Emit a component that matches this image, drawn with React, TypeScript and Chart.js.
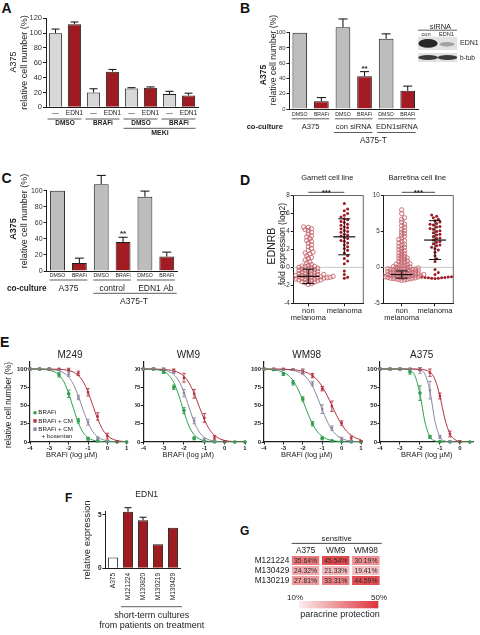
import React, { useEffect, useRef } from 'react';
import { Chart, registerables } from 'chart.js';

Chart.register(...registerables);

const FONT = '"Liberation Sans", Arial, Helvetica, sans-serif';
Chart.defaults.font.family = FONT;
Chart.defaults.color = '#222';

/* ===================== DATA ===================== */
// Panel A
const A_LABELS = ['—', 'EDN1', '—', 'EDN1', '—', 'EDN1', '—', 'EDN1'];
const A_VALUES = [100, 112, 20, 48, 25.5, 26.5, 18, 16];
const A_ERRORS = [5.5, 3, 5, 3, 1, 1, 3.5, 3];
const A_TREATMENTS = ['DMSO', 'BRAFi', 'DMSO', 'BRAFi'];
const A_BACKGROUND = 'MEKi';

// Panel B
const B_LABELS = ['DMSO', 'BRAFi', 'DMSO', 'BRAFi', 'DMSO', 'BRAFi'];
const B_VALUES = [100, 10, 107, 43, 92, 24];
const B_ERRORS = [0, 5, 11, 6, 6.5, 6];
const B_SIGNIF = ['', '', '', '**', '', ''];
const B_COCULTURE = ['A375', 'con siRNA', 'EDN1siRNA'];
const B_BLOT_LANES = ['con', 'EDN1'];
const B_BLOT_ROWS = ['EDN1', 'b-tub'];

// Panel C
const C_LABELS = ['DMSO', 'BRAFi', 'DMSO', 'BRAFi', 'DMSO', 'BRAFi'];
const C_VALUES = [100, 10, 108, 36, 92.5, 18];
const C_ERRORS = [0, 6, 11, 6, 7, 5.5];
const C_SIGNIF = ['', '', '', '**', '', ''];
const C_COCULTURE = ['A375', 'control', 'EDN1 Ab'];

// Panel D
const D_CATEGORIES: (string | string[])[] = [['non', 'melanoma'], 'melanoma'];
const D_GARNETT_NON = [4.5, 4.45, 4.3, 4.2, 4.1, 3.9, 3.7, 3.5, 3.4, 3.2, 3.0, 2.9, 2.7, 2.5, 2.3, 2.1, 1.9, 1.7, 1.6, 1.5, 1.3, 1.1, 1.0, 0.8, 0.6, 0.5, 0.3, 0.2, 0.15, 0.1, 0.05, 0.0, -0.05, -0.1, -0.15,
  -0.2, -0.25, -0.3, -0.35, -0.4, -0.45, -0.5, -0.55, -0.6, -0.65, -0.7, -0.75, -0.8, -0.8, -0.85, -0.9, -0.9, -0.95, -1.0, -1.0, -1.0, -1.05, -1.05, -1.1, -1.1, -1.1, -1.15, -1.15, -1.2, -1.2, -1.2, -1.25, -1.3, -1.3, -1.35, -1.4, -1.4, -1.45, -1.5, -1.55, -1.6, -1.65, -1.7, -1.8, -1.9];
const D_GARNETT_MEL = [7.1, 6.5, 6.3, 6.0, 5.8, 5.6, 5.4, 5.3, 5.1, 5.0, 4.8, 4.7, 4.5, 4.4, 4.3, 4.1, 4.0, 3.9, 3.7, 3.6, 3.5, 3.3, 3.2, 3.0, 2.9, 2.7, 2.5, 2.3, 2.1, 1.9, 1.6, 1.3, 1.0, 0.7, 0.4, -0.4, -0.8, -1.1, -1.2];
const D_GARNETT_MEAN = [-1.0, 3.4];
const D_GARNETT_SD = [0.8, 2.0];
const D_BARRETINA_NON = [8.0, 7.5, 6.9, 6.7, 6.3, 6.0, 5.8, 5.6, 5.3, 5.1, 4.9, 4.7, 4.5, 4.3, 4.1, 3.9, 3.7, 3.6, 3.4, 3.2, 3.1, 2.9, 2.8, 2.6, 2.5, 2.3, 2.2, 2.0, 1.9, 1.8, 1.6, 1.5, 1.4, 1.3, 1.2, 1.1, 1.0, 0.9, 0.8, 0.7, 0.6, 0.5, 0.45, 0.4, 0.3, 0.25, 0.2, 0.1, 0.05, 0.0,
  -0.05, -0.1, -0.1, -0.15, -0.2, -0.2, -0.25, -0.3, -0.3, -0.35, -0.4, -0.4, -0.45, -0.5, -0.5, -0.55, -0.6, -0.6, -0.65, -0.7, -0.7, -0.75, -0.8, -0.8, -0.85, -0.9, -0.9, -0.95, -1.0, -1.0, -1.0, -1.05, -1.1, -1.1, -1.1, -1.15, -1.2, -1.2, -1.2, -1.25, -1.3, -1.3, -1.3, -1.35, -1.4, -1.4, -1.45, -1.5, -1.5, -1.55, -1.6, -1.6, -1.65, -1.7, -1.75, -1.8];
const D_BARRETINA_MEL = [7.3, 7.1, 6.9, 6.7, 6.5, 6.3, 6.1, 6.0, 5.9, 5.7, 5.6, 5.4, 5.3, 5.1, 5.0, 4.8, 4.6, 4.5, 4.3, 4.1, 4.0, 3.8, 3.6, 3.5, 3.3, 3.1, 3.0, 2.8, 2.6, 2.4, 2.1, 1.6, 1.2, 0.8, -0.3, -0.7, -1.0, -1.3, -1.35, -1.4, -1.4, -1.45, -1.5, -1.5, -1.55, -1.45, -1.35];
const D_BARRETINA_MEAN = [-1.0, 3.8];
const D_BARRETINA_SD = [0.5, 2.7];
const D_TITLES = ['Garnett cell line', 'Barretina cell line'];
const D_SIGNIF = '***';

// Panel E
const E_SERIES = ['BRAFi', 'BRAFi + CM', 'BRAFi + CM', '+ bosentan'];
const E_CELL_LINES = ['M249', 'WM9', 'WM98', 'A375'];
const E_DOSES = [-4, -3.5, -3, -2.5, -2, -1.5, -1, -0.5, 0, 0.5, 1];
const E_DOSES_A375 = [-4, -3.5, -3, -2.5, -2, -1.5, -1, -0.5, 0, 0.5];
const E_FIT_DOSES = [-4, -3.75, -3.5, -3.25, -3, -2.75, -2.5, -2.25, -2, -1.75, -1.5, -1.25, -1, -0.75, -0.5, -0.25, 0, 0.25, 0.5, 0.75, 1];

const M249_BRAFI = [100, 100, 100, 92, 66, 29, 4.5, 1.5, 0.5, 0, 0];
const M249_BRAFI_ERR = [1, 1, 1, 3, 5, 3, 2, 1, 0, 0, 0];
const M249_CM = [100, 100, 100, 100, 99, 94, 68, 35, 8, 1, 0];
const M249_CM_ERR = [1, 1, 1, 1, 2, 3, 5, 5, 4, 1, 0];
const M249_BOS = [100, 100, 100, 99, 93, 61, 27, 5, 1, 0, 0];
const M249_BOS_ERR = [1, 1, 1, 1, 3, 3, 4, 2, 1, 0, 0];
const M249_BRAFI_FIT = [100, 99.9, 99.7, 99.3, 98.4, 96.4, 91.8, 82.6, 66.6, 45.7, 26.2, 13.0, 5.9, 2.6, 1.1, 0.5, 0.2, 0.1, 0, 0, 0];
const M249_CM_FIT = [100, 100, 100, 99.9, 99.9, 99.8, 99.6, 99.1, 98.0, 95.7, 91.1, 82.6, 68.5, 50, 31.5, 17.4, 8.9, 4.3, 2.0, 0.9, 0.4];
const M249_BOS_FIT = [100, 100, 99.9, 99.7, 99.4, 98.8, 97.4, 94.6, 88.9, 78.7, 62.9, 43.8, 26.4, 14.1, 7.0, 3.4, 1.6, 0.7, 0.3, 0.15, 0.1];

const WM9_BRAFI = [100, 100, 96, 75, 43, 5, 1, 0, 0, 0, 0];
const WM9_BRAFI_ERR = [1, 1, 2, 3, 4, 2, 1, 0, 0, 0, 0];
const WM9_CM = [100, 100, 100, 98, 88, 66, 33, 6, 1, 0, 0];
const WM9_CM_ERR = [1, 1, 1, 2, 6, 6, 6, 3, 1, 0, 0];
const WM9_BOS = [100, 100, 100, 96, 67, 29, 3, 1, 0, 0, 0];
const WM9_BOS_ERR = [1, 1, 1, 2, 5, 4, 2, 1, 0, 0, 0];
const WM9_BRAFI_FIT = [99.9, 99.8, 99.4, 98.6, 96.5, 91.6, 81.4, 63.5, 40.9, 21.6, 9.9, 4.2, 1.7, 0.7, 0.3, 0.1, 0, 0, 0, 0, 0];
const WM9_CM_FIT = [100, 100, 99.9, 99.7, 99.4, 98.8, 97.5, 94.9, 89.9, 80.8, 66.6, 48.5, 30.8, 17.4, 9.1, 4.5, 2.2, 1.0, 0.5, 0.2, 0.1];
const WM9_BOS_FIT = [100, 99.9, 99.7, 99.4, 98.5, 96.6, 92.3, 83.5, 68.1, 47.4, 27.5, 13.8, 6.3, 2.8, 1.2, 0.5, 0.2, 0.1, 0, 0, 0];

const WM98_BRAFI = [100, 99, 93, 81, 59, 25, 5, 1.5, 0.5, 0, 0];
const WM98_BRAFI_ERR = [1, 1, 2, 3, 3, 3, 2, 1, 0, 0, 0];
const WM98_CM = [100, 100, 100, 99, 97, 91, 73, 49, 26, 5, 1];
const WM98_CM_ERR = [1, 1, 1, 1, 3, 3, 3, 7, 3, 3, 1];
const WM98_BOS = [100, 100, 99, 99, 96, 80, 45, 19, 4.5, 1, 0];
const WM98_BOS_ERR = [1, 1, 1, 1, 3, 3, 6, 3, 2, 1, 0];
const WM98_BRAFI_FIT = [99.7, 99.4, 98.8, 97.7, 95.4, 91.3, 84.0, 72.5, 56.9, 39.8, 24.9, 14.2, 7.7, 4.0, 2.0, 1.0, 0.5, 0.3, 0.1, 0.1, 0];
const WM98_CM_FIT = [100, 99.9, 99.9, 99.8, 99.7, 99.4, 99.0, 98.3, 96.9, 94.7, 90.9, 84.9, 76.0, 64.0, 50, 36.0, 24.0, 15.1, 9.1, 5.3, 3.1];
const WM98_BOS_FIT = [100, 100, 99.9, 99.7, 99.5, 99.0, 98.0, 96.2, 92.7, 86.4, 76.1, 61.5, 44.5, 28.7, 16.8, 9.2, 4.8, 2.5, 1.3, 0.6, 0.3];

const A375_BRAFI = [100, 100, 100, 96, 67, 7, 0.5, 0, 0, 0];
const A375_BRAFI_ERR = [1, 1, 1, 3, 10, 2, 1, 0, 0, 0];
const A375_CM = [100, 100, 100, 100, 100, 95, 63, 11, 0.5, 0];
const A375_CM_ERR = [1, 1, 1, 1, 2, 5, 4, 4, 1, 0];
const A375_BOS = [100, 100, 100, 100, 98, 71, 7, 1, 0, 0];
const A375_BOS_ERR = [1, 1, 1, 1, 4, 12, 2, 1, 0, 0];
const A375_BRAFI_FIT = [100, 100, 100, 100, 99.9, 99.6, 98.0, 90.5, 65.6, 27.5, 7.0, 1.5, 0.3, 0.1, 0, 0, 0, 0, 0, 0, 0];
const A375_CM_FIT = [100, 100, 100, 100, 100, 100, 100, 99.9, 99.7, 98.8, 95.7, 86.0, 62.7, 31.5, 11.2, 3.3, 0.9, 0.3, 0.1, 0, 0];
const A375_BOS_FIT = [100, 100, 100, 100, 100, 100, 100, 99.8, 98.6, 92.8, 69.6, 28.9, 6.8, 1.3, 0.2, 0, 0, 0, 0, 0, 0];

// Panel F
const F_SAMPLES = ['A375', 'M121224', 'M130820', 'M130219', 'M130429'];
const F_VALUES = [1.0, 5.3, 4.5, 2.25, 3.8];
const F_ERRORS = [0, 0.38, 0.28, 0, 0];
const F_TITLE = 'EDN1';
const F_GROUP = ['short-term cultures', 'from patients on treatment'];

// Panel G
const G_COLUMNS = ['A375', 'WM9', 'WM98'];
const G_ROWS = ['M121224', 'M130429', 'M130219'];
const G_M121224 = [35.64, 45.54, 30.19];
const G_M130429 = [24.32, 21.33, 19.41];
const G_M130219 = [27.81, 33.31, 44.59];
const G_SCALE = [10, 50];
const G_SCALE_LABELS = ['10%', '50%'];

/* ===================== STYLE / LAYOUT ===================== */
type Box = { x: number; y: number; w: number; h: number };
type Area = { l: number; t: number; r: number; b: number };

const INK = '#1e1e1e';
const GRAY_A = '#d8d8d8';
const RED_A = '#9d1b21';
const GRAY_B = '#bdbdbd';
const RED_B = '#a31c24';
const E_COLORS = ['#2f9e4f', '#b2323f', '#8b879e'];
const D_NON_COLOR = '#c4646c';
const D_MEL_COLOR = '#9c1c26';
const HEAT_LO = [251, 238, 238];
const HEAT_HI = [222, 52, 58];

function layoutFor(box: Box, area: Area, yw: number, xh: number) {
  return {
    padding: {
      left: area.l - box.x - yw,
      top: area.t - box.y,
      right: box.x + box.w - area.r,
      bottom: box.y + box.h - area.b - xh,
    },
  };
}
const fixW = (w: number) => (s: any) => { s.width = w; s.paddingTop = 0; s.paddingBottom = 0; };
const fixH = (h: number) => (s: any) => { s.height = h; s.paddingLeft = 0; s.paddingRight = 0; };

function drawText(ctx: CanvasRenderingContext2D, s: string, x: number, y: number, size: number,
  o: { bold?: boolean; align?: CanvasTextAlign; color?: string; rot?: boolean; base?: CanvasTextBaseline } = {}) {
  ctx.save();
  ctx.font = `${o.bold ? 'bold ' : ''}${size}px ${FONT}`;
  ctx.fillStyle = o.color ?? '#222';
  ctx.textAlign = o.align ?? 'center';
  ctx.textBaseline = o.base ?? 'middle';
  ctx.translate(x, y);
  if (o.rot) ctx.rotate(-Math.PI / 2);
  ctx.fillText(s, 0, 0);
  ctx.restore();
}
function drawLine(ctx: CanvasRenderingContext2D, x1: number, y1: number, x2: number, y2: number, color = INK, w = 1) {
  ctx.save();
  ctx.strokeStyle = color;
  ctx.lineWidth = w;
  ctx.beginPath();
  ctx.moveTo(x1, y1);
  ctx.lineTo(x2, y2);
  ctx.stroke();
  ctx.restore();
}

function errorBarPlugin(sets: { ds: number; err: number[]; cap: number; both?: boolean; color?: string; width?: number }[]) {
  return {
    id: 'errorBars',
    afterDatasetsDraw(chart: any) {
      const ctx = chart.ctx;
      const ys = chart.scales.y;
      for (const s of sets) {
        const meta = chart.getDatasetMeta(s.ds);
        const data = chart.data.datasets[s.ds].data;
        meta.data.forEach((el: any, i: number) => {
          const e = s.err[i];
          if (!e) return;
          const raw = data[i];
          const v = typeof raw === 'number' ? raw : raw.y;
          const x = el.x;
          const yTop = ys.getPixelForValue(v + e);
          const yBot = s.both ? ys.getPixelForValue(v - e) : ys.getPixelForValue(v);
          const c = s.color ?? INK;
          const w = s.width ?? 1.1;
          drawLine(ctx, x, yTop, x, yBot, c, w);
          drawLine(ctx, x - s.cap / 2, yTop, x + s.cap / 2, yTop, c, w);
          if (s.both) drawLine(ctx, x - s.cap / 2, yBot, x + s.cap / 2, yBot, c, w);
        });
      }
    },
  };
}

const baseOptions = (box: Box, area: Area, yw: number, xh: number) => ({
  responsive: false,
  animation: false,
  devicePixelRatio: 1,
  events: [],
  layout: layoutFor(box, area, yw, xh),
  plugins: { legend: { display: false }, tooltip: { enabled: false }, title: { display: false } },
});

const catX = (size: number, padding: number, xh: number) => ({
  grid: { display: false, drawTicks: false }, border: { color: INK, width: 1 },
  ticks: { font: { size, lineHeight: 1.1 }, color: '#222', padding, autoSkip: false, maxRotation: 0, minRotation: 0 },
  afterFit: fixH(xh),
});

/* ---------- Panel A ---------- */
const BOX_A: Box = { x: 0, y: 0, w: 240, h: 140 };
function makeA(box: Box) {
  const area = { l: 46, t: 18.3, r: 198, b: 107.3 };
  const yw = 30, xh = 11;
  return {
    type: 'bar',
    data: {
      labels: A_LABELS,
      datasets: [{
        data: A_VALUES,
        backgroundColor: A_LABELS.map((l) => (l === 'EDN1' ? RED_A : GRAY_A)),
        borderColor: INK, borderWidth: 1, barPercentage: 0.7, categoryPercentage: 1, clip: false,
      }],
    },
    options: {
      ...baseOptions(box, area, yw, xh),
      scales: {
        x: catX(6.5, 2.2, xh),
        y: {
          min: 0, max: 120,
          grid: { drawOnChartArea: false, tickLength: 3, tickColor: INK }, border: { color: INK, width: 1 },
          ticks: { stepSize: 20, font: { size: 7.5 }, color: '#333', padding: 1 },
          afterFit: fixW(yw),
        },
      },
    },
    plugins: [
      errorBarPlugin([{ ds: 0, err: A_ERRORS, cap: 8 }]),
      {
        id: 'annA',
        afterDraw(chart: any) {
          const ctx = chart.ctx;
          const xs = chart.scales.x;
          const X = (v: number) => v - box.x, Y = (v: number) => v - box.y;
          A_TREATMENTS.forEach((t, p) => {
            const x0 = xs.getPixelForValue(2 * p), x1 = xs.getPixelForValue(2 * p + 1);
            drawLine(ctx, x0 - 8, Y(119), x1 + 7, Y(119), '#333', 0.8);
            drawText(ctx, t, (x0 + x1) / 2, Y(123.6), 6.5, { bold: true });
          });
          const m0 = xs.getPixelForValue(4), m1 = xs.getPixelForValue(7);
          drawLine(ctx, m0 - 8, Y(128.3), m1 + 7, Y(128.3), '#333', 0.8);
          drawText(ctx, A_BACKGROUND, (m0 + m1) / 2, Y(133.5), 7, { bold: true });
          drawText(ctx, 'A375', X(14), Y(62), 9, { rot: true });
          drawText(ctx, 'relative cell number (%)', X(25), Y(62.5), 9, { rot: true });
        },
      },
    ],
  };
}

/* ---------- Panels B & C ---------- */
const BOX_B: Box = { x: 240, y: 0, w: 240, h: 150 };
const BOX_C: Box = { x: 0, y: 160, w: 240, h: 150 };
function makeBC(kind: 'B' | 'C') {
  return (box: Box) => {
    const isB = kind === 'B';
    const area = isB ? { l: 289, t: 32.7, r: 418.5, b: 109 } : { l: 46.6, t: 190.7, r: 177.7, b: 271 };
    const yw = isB ? 20 : 30, xh = 9;
    const labels = isB ? B_LABELS : C_LABELS;
    const values = isB ? B_VALUES : C_VALUES;
    const errors = isB ? B_ERRORS : C_ERRORS;
    const signif = isB ? B_SIGNIF : C_SIGNIF;
    const groups = isB ? B_COCULTURE : C_COCULTURE;
    return {
      type: 'bar',
      data: {
        labels,
        datasets: [{
          data: values,
          backgroundColor: labels.map((l) => (l === 'BRAFi' ? RED_B : GRAY_B)),
          borderColor: INK, borderWidth: 1, barPercentage: 0.68, categoryPercentage: 1, clip: false,
        }],
      },
      options: {
        ...baseOptions(box, area, yw, xh),
        scales: {
          x: catX(5.2, isB ? 2.8 : 2.2, xh),
          y: {
            min: 0, max: 100,
            grid: { drawOnChartArea: false, tickLength: isB ? 2.5 : 3, tickColor: INK }, border: { color: INK, width: 1 },
            ticks: { stepSize: 20, font: { size: isB ? 5.8 : 7 }, color: '#333', padding: 1 },
            afterFit: fixW(yw),
          },
        },
      },
      plugins: [
        errorBarPlugin([{ ds: 0, err: errors, cap: 9 }]),
        {
          id: 'annBC',
          afterDraw(chart: any) {
            const ctx = chart.ctx;
            const xs = chart.scales.x, ys = chart.scales.y;
            const X = (v: number) => v - box.x, Y = (v: number) => v - box.y;
            const pairY = isB ? 118.8 : 280;
            const grpY = isB ? 127 : 288.6;
            const gSize = isB ? 7.6 : 8.5;
            groups.forEach((g, p) => {
              const x0 = xs.getPixelForValue(2 * p), x1 = xs.getPixelForValue(2 * p + 1);
              drawLine(ctx, x0 - 8, Y(pairY), x1 + 8, Y(pairY), '#333', 0.8);
              drawText(ctx, g, (x0 + x1) / 2, Y(grpY), gSize);
            });
            drawText(ctx, 'co-culture', X(isB ? 246.7 : 7), Y(grpY), isB ? 7.5 : 8.2, { bold: true, align: 'left' });
            const p2 = xs.getPixelForValue(2), p3 = xs.getPixelForValue(3), p4 = xs.getPixelForValue(4), p5 = xs.getPixelForValue(5);
            if (isB) {
              drawLine(ctx, p2 - 9, Y(132.5), p3 + 8, Y(132.5), '#333', 0.8);
              drawLine(ctx, p4 - 9, Y(132.5), p5 + 8, Y(132.5), '#333', 0.8);
              drawText(ctx, 'A375-T', (p2 + p5) / 2 - 2, Y(140.5), 8.2);
            } else {
              drawLine(ctx, p2 - 8, Y(293.3), p5 + 10, Y(293.3), '#333', 0.8);
              drawText(ctx, 'A375-T', (p2 + p5) / 2, Y(302), 8.5);
            }
            signif.forEach((s, i) => {
              if (!s) return;
              const yt = ys.getPixelForValue(values[i] + errors[i]);
              drawText(ctx, s, xs.getPixelForValue(i), yt - 1, 8, { bold: true, base: 'alphabetic' });
            });
            if (isB) {
              drawText(ctx, 'A375', X(264), Y(75), 8.5, { bold: true, rot: true });
              drawText(ctx, 'relative cell number (%)', X(273.3), Y(60), 8.6, { rot: true });
              // western blot inset
              drawText(ctx, 'siRNA', X(440.5), Y(26.5), 7.5);
              drawLine(ctx, X(418), Y(30.2), X(457), Y(30.2), '#333', 0.8);
              drawText(ctx, B_BLOT_LANES[0], X(426), Y(34), 5.6);
              drawText(ctx, B_BLOT_LANES[1], X(446.5), Y(34), 5.6);
              ctx.save();
              ctx.fillStyle = '#e2e2e2';
              ctx.fillRect(X(418), Y(36.7), 39.3, 13.3);
              ctx.fillRect(X(418), Y(53), 39.3, 9);
              ctx.fillStyle = '#262626';
              ctx.beginPath(); ctx.ellipse(X(428), Y(43.4), 9.6, 4.3, 0, 0, Math.PI * 2); ctx.fill();
              ctx.fillStyle = '#a2a2a2';
              ctx.beginPath(); ctx.ellipse(X(447), Y(44.3), 7.5, 2.2, 0, 0, Math.PI * 2); ctx.fill();
              ctx.fillStyle = '#3a3a3a';
              ctx.beginPath(); ctx.ellipse(X(428), Y(57.5), 9.8, 2.6, 0, 0, Math.PI * 2); ctx.fill();
              ctx.beginPath(); ctx.ellipse(X(447.5), Y(57.5), 9.8, 2.6, 0, 0, Math.PI * 2); ctx.fill();
              ctx.restore();
              drawText(ctx, B_BLOT_ROWS[0], X(460), Y(43.5), 7, { align: 'left' });
              drawText(ctx, B_BLOT_ROWS[1], X(460), Y(57.8), 6.5, { align: 'left' });
            } else {
              drawText(ctx, 'A375', X(14), Y(229), 9, { bold: true, rot: true });
              drawText(ctx, 'relative cell number (%)', X(24.5), Y(221), 9, { rot: true });
            }
          },
        },
      ],
    };
  };
}

/* ---------- Panel D ---------- */
function swarm(values: number[], center: number, pxY: number, pxX: number, d: number) {
  const order = values.map((_, i) => i).sort((a, b) => values[a] - values[b]);
  const placed: [number, number][] = [];
  const out: { x: number; y: number }[] = new Array(values.length);
  for (const i of order) {
    const py = values[i] * pxY;
    let off = 0;
    for (let k = 0; k < 80; k++) {
      const cand = k === 0 ? 0 : (k % 2 === 1 ? 1 : -1) * Math.ceil(k / 2) * d * 0.5;
      if (placed.every(([qx, qy]) => (qx - cand) ** 2 + (qy - py) ** 2 >= d * d)) { off = cand; break; }
    }
    placed.push([off, py]);
    out[i] = { x: center + off / pxX, y: values[i] };
  }
  return out;
}

const BOX_D1: Box = { x: 240, y: 168, w: 130, h: 160 };
const BOX_D2: Box = { x: 370, y: 168, w: 110, h: 160 };
function makeD(which: 0 | 1) {
  return (box: Box) => {
    const left = which === 0;
    const area = left ? { l: 293.3, t: 195.5, r: 363.3, b: 303.3 } : { l: 383.3, t: 195.5, r: 453.3, b: 303.3 };
    const [ymin, ymax, step] = left ? [-4, 8, 2] : [-5, 10, 5];
    const [xmin, xmax] = left ? [-0.417, 1.528] : [-0.552, 1.55];
    const non = left ? D_GARNETT_NON : D_BARRETINA_NON;
    const mel = left ? D_GARNETT_MEL : D_BARRETINA_MEL;
    const mean = left ? D_GARNETT_MEAN : D_BARRETINA_MEAN;
    const sd = left ? D_GARNETT_SD : D_BARRETINA_SD;
    const pxY = (area.b - area.t) / (ymax - ymin);
    const pxX = (area.r - area.l) / (xmax - xmin);
    const yw = 14, xh = 20;
    return {
      type: 'scatter',
      data: {
        datasets: [
          { data: swarm(non, 0, pxY, pxX, left ? 3.1 : 2.75), pointRadius: 2.2, borderWidth: 0.9, borderColor: D_NON_COLOR, backgroundColor: 'rgba(255,255,255,0)', pointStyle: 'circle' },
          { data: swarm(mel, 1, pxY, pxX, 3.3), pointRadius: 1.5, borderWidth: 0, backgroundColor: D_MEL_COLOR, borderColor: D_MEL_COLOR, pointStyle: 'circle' },
        ],
      },
      options: {
        ...baseOptions(box, area, yw, xh),
        scales: {
          x: {
            type: 'linear', min: xmin, max: xmax,
            afterBuildTicks: (s: any) => { s.ticks = [{ value: 0 }, { value: 1 }]; },
            grid: { drawOnChartArea: false, tickLength: 3, tickColor: INK }, border: { color: INK, width: 1 },
            ticks: { callback: (v: number) => D_CATEGORIES[v], font: { size: 7.5, lineHeight: 1 }, color: '#222', padding: 0.5, maxRotation: 0, minRotation: 0 },
            afterFit: fixH(xh),
          },
          y: {
            min: ymin, max: ymax,
            grid: { drawOnChartArea: false, tickLength: 2.5, tickColor: INK }, border: { color: INK, width: 1 },
            ticks: { stepSize: step, font: { size: 6.3 }, color: '#333', padding: 1 },
            afterFit: fixW(yw),
          },
        },
      },
      plugins: [
        {
          id: 'zeroLine',
          beforeDatasetsDraw(chart: any) {
            const ca = chart.chartArea;
            const y0 = chart.scales.y.getPixelForValue(0);
            drawLine(chart.ctx, ca.left, y0, ca.right, y0, '#c8c8c8', 1);
          },
        },
        {
          id: 'annD',
          afterDraw(chart: any) {
            const ctx = chart.ctx;
            const ca = chart.chartArea;
            const xs = chart.scales.x, ys = chart.scales.y;
            const X = (v: number) => v - box.x, Y = (v: number) => v - box.y;
            drawLine(ctx, ca.left, ca.top, ca.right, ca.top, '#555', 0.9);
            drawLine(ctx, ca.right, ca.top, ca.right, ca.bottom, '#555', 0.9);
            [0, 1].forEach((c) => {
              const xc = xs.getPixelForValue(c);
              const ym = ys.getPixelForValue(mean[c]);
              const yt = ys.getPixelForValue(mean[c] + sd[c]);
              const yb = ys.getPixelForValue(mean[c] - sd[c]);
              drawLine(ctx, xc, yt, xc, yb, '#111', 1);
              drawLine(ctx, xc - 11, ym, xc + 11, ym, '#111', 1.2);
              drawLine(ctx, xc - 6, yt, xc + 6, yt, '#111', 1);
              drawLine(ctx, xc - 6, yb, xc + 6, yb, '#111', 1);
            });
            const x0 = xs.getPixelForValue(0), x1 = xs.getPixelForValue(1);
            drawLine(ctx, x0, ca.top - 3.2, x1, ca.top - 3.2, '#333', 0.9);
            drawText(ctx, D_SIGNIF, (x0 + x1) / 2, ca.top - 0.2, 8, { bold: true, base: 'alphabetic' });
            drawText(ctx, D_TITLES[which], (ca.left + ca.right) / 2 - 1, Y(178.3), 7.5);
            if (left) {
              drawText(ctx, 'EDNRB', X(272.5), Y(246), 10.5, { rot: true });
              drawText(ctx, 'fold expression (log2)', X(282.6), Y(244), 8.6, { rot: true });
            }
          },
        },
      ],
    };
  };
}

/* ---------- Panel E ---------- */
const E_LAYOUT = [
  { box: { x: 0, y: 345, w: 135, h: 120 }, area: { l: 30, t: 361.7, r: 126.7, b: 442 }, xmax: 1, titleX: 70, xlabX: 71.7 },
  { box: { x: 135, y: 345, w: 115, h: 120 }, area: { l: 143.3, t: 361.7, r: 245, b: 442 }, xmax: 1, titleX: 188.3, xlabX: 188.3 },
  { box: { x: 250, y: 345, w: 115, h: 120 }, area: { l: 264, t: 361.7, r: 362.7, b: 442 }, xmax: 1, titleX: 306.7, xlabX: 306.7 },
  { box: { x: 365, y: 345, w: 115, h: 120 }, area: { l: 380, t: 361.7, r: 473.3, b: 442 }, xmax: 0.67, titleX: 421.7, xlabX: 426.7 },
];
const E_DATA = [
  { doses: E_DOSES, pts: [M249_BRAFI, M249_CM, M249_BOS], err: [M249_BRAFI_ERR, M249_CM_ERR, M249_BOS_ERR], fit: [M249_BRAFI_FIT, M249_CM_FIT, M249_BOS_FIT] },
  { doses: E_DOSES, pts: [WM9_BRAFI, WM9_CM, WM9_BOS], err: [WM9_BRAFI_ERR, WM9_CM_ERR, WM9_BOS_ERR], fit: [WM9_BRAFI_FIT, WM9_CM_FIT, WM9_BOS_FIT] },
  { doses: E_DOSES, pts: [WM98_BRAFI, WM98_CM, WM98_BOS], err: [WM98_BRAFI_ERR, WM98_CM_ERR, WM98_BOS_ERR], fit: [WM98_BRAFI_FIT, WM98_CM_FIT, WM98_BOS_FIT] },
  { doses: E_DOSES_A375, pts: [A375_BRAFI, A375_CM, A375_BOS], err: [A375_BRAFI_ERR, A375_CM_ERR, A375_BOS_ERR], fit: [A375_BRAFI_FIT, A375_CM_FIT, A375_BOS_FIT] },
];
function makeE(idx: number) {
  return (box: Box) => {
    const L = E_LAYOUT[idx];
    const D = E_DATA[idx];
    const area = L.area;
    const yw = 14, xh = 10;
    const styles = ['circle', 'rect', 'rect'];
    const pointSets = D.pts.map((p, s) => ({
      data: D.doses.map((x, i) => ({ x, y: p[i] })),
      showLine: false, pointStyle: styles[s], pointRadius: s === 0 ? 1.8 : 1.7, borderWidth: 0,
      backgroundColor: E_COLORS[s], borderColor: E_COLORS[s], order: 0, clip: false,
    }));
    const curveSets = D.fit.map((f, s) => ({
      data: E_FIT_DOSES.map((x, i) => ({ x, y: f[i] })),
      showLine: true, pointRadius: 0, borderWidth: 1, borderColor: E_COLORS[s], backgroundColor: E_COLORS[s],
      cubicInterpolationMode: 'monotone', order: 1,
    }));
    const xt: number[] = [];
    for (let v = -4; v <= L.xmax + 1e-9; v += 1) xt.push(v);
    return {
      type: 'scatter',
      data: { datasets: [...pointSets, ...curveSets] },
      options: {
        ...baseOptions(box, area, yw, xh),
        scales: {
          x: {
            type: 'linear', min: -4, max: L.xmax,
            afterBuildTicks: (s: any) => { s.ticks = xt.map((v) => ({ value: v })); },
            grid: { drawOnChartArea: false, tickLength: 2.5, tickColor: INK }, border: { color: INK, width: 1.2 },
            ticks: { callback: (v: number) => String(v), font: { size: 6, weight: 'bold' }, color: '#222', padding: 0.5, maxRotation: 0, minRotation: 0 },
            afterFit: fixH(xh),
          },
          y: {
            min: 0, max: 110,
            afterBuildTicks: (s: any) => { s.ticks = [0, 25, 50, 75, 100].map((v) => ({ value: v })); },
            grid: { drawOnChartArea: false, tickLength: 2.5, tickColor: INK }, border: { color: INK, width: 1.2 },
            ticks: { font: { size: 6, weight: 'bold' }, color: '#222', padding: 0.5 },
            afterFit: fixW(yw),
          },
        },
      },
      plugins: [
        errorBarPlugin([0, 1, 2].map((s) => ({ ds: s, err: D.err[s], cap: 3.5, both: true, color: E_COLORS[s], width: 0.9 }))),
        {
          id: 'annE',
          afterDraw(chart: any) {
            const ctx = chart.ctx;
            const X = (v: number) => v - box.x, Y = (v: number) => v - box.y;
            drawText(ctx, E_CELL_LINES[idx], X(L.titleX), Y(355.5), 10);
            drawText(ctx, 'BRAFi (log µM)', X(L.xlabX), Y(455.3), 7.5);
            if (idx === 0) {
              drawText(ctx, 'relative cell number (%)', X(8.3), Y(405), 8.2, { rot: true });
              const rows = [412.7, 420.9, 429.1];
              rows.forEach((ry, s) => {
                ctx.save();
                ctx.fillStyle = E_COLORS[s];
                if (s === 0) { ctx.beginPath(); ctx.arc(X(35), Y(ry), 1.8, 0, Math.PI * 2); ctx.fill(); }
                else ctx.fillRect(X(33.3), Y(ry) - 1.7, 3.4, 3.4);
                ctx.restore();
                drawText(ctx, E_SERIES[s], X(38.3), Y(ry), 6.2, { align: 'left' });
              });
              drawText(ctx, E_SERIES[3], X(41.5), Y(435.8), 6.2, { align: 'left' });
            }
          },
        },
      ],
    };
  };
}

/* ---------- Panel F ---------- */
const BOX_F: Box = { x: 60, y: 485, w: 152, h: 150 };
function makeF(box: Box) {
  const area = { l: 105.5, t: 511.7, r: 180.5, b: 568.3 };
  const yw = 12, xh = 36;
  return {
    type: 'bar',
    data: {
      labels: F_SAMPLES,
      datasets: [{
        data: F_VALUES,
        backgroundColor: F_SAMPLES.map((_, i) => (i === 0 ? '#ffffff' : RED_A)),
        borderColor: INK, borderWidth: 1, barPercentage: 0.68, categoryPercentage: 1, clip: false,
      }],
    },
    options: {
      ...baseOptions(box, area, yw, xh),
      scales: {
        x: {
          grid: { display: false, drawTicks: false }, border: { color: INK, width: 1 },
          ticks: { font: { size: 6.6 }, color: '#222', padding: 4.5, autoSkip: false, maxRotation: 90, minRotation: 90 },
          afterFit: fixH(xh),
        },
        y: {
          min: 0, max: 5.3,
          afterBuildTicks: (s: any) => { s.ticks = [{ value: 0 }, { value: 5 }]; },
          grid: { drawOnChartArea: false, tickLength: 3, tickColor: INK }, border: { color: INK, width: 1 },
          ticks: { font: { size: 6.5, weight: 'bold' }, color: '#222', padding: 1 },
          afterFit: fixW(yw),
        },
      },
    },
    plugins: [
      errorBarPlugin([{ ds: 0, err: F_ERRORS, cap: 7 }]),
      {
        id: 'annF',
        afterDraw(chart: any) {
          const ctx = chart.ctx;
          const xs = chart.scales.x;
          const X = (v: number) => v - box.x, Y = (v: number) => v - box.y;
          drawText(ctx, F_TITLE, X(146.7), Y(494.3), 8.5);
          drawText(ctx, 'relative expression', X(87.3), Y(540), 9.5, { rot: true });
          const x1 = xs.getPixelForValue(1), x4 = xs.getPixelForValue(4);
          drawLine(ctx, x1 - 7, Y(606.7), x4 + 9, Y(606.7), '#333', 0.8);
          drawText(ctx, F_GROUP[0], X(151.7), Y(615.3), 9);
          drawText(ctx, F_GROUP[1], X(151.7), Y(626), 9);
        },
      },
    ],
  };
}

/* ---------- Panel G ---------- */
const BOX_G: Box = { x: 240, y: 520, w: 240, h: 115 };
function heat(v: number) {
  const t = Math.max(0, Math.min(1, (v - G_SCALE[0]) / (G_SCALE[1] - G_SCALE[0])));
  const c = HEAT_LO.map((lo, i) => Math.round(lo + (HEAT_HI[i] - lo) * t));
  return `rgb(${c[0]},${c[1]},${c[2]})`;
}
function makeG(box: Box) {
  const area = { l: 290.5, t: 555.5, r: 381, b: 585.5 };
  const rows = [G_M121224, G_M130429, G_M130219];
  return {
    type: 'bar',
    data: {
      labels: G_COLUMNS,
      datasets: rows.map((vals, r) => ({
        label: G_ROWS[r],
        data: vals.map(() => [r, r + 1]),
        backgroundColor: vals.map(heat),
        borderColor: '#ffffff',
        borderWidth: { top: 0.6, bottom: 0.6, left: 0, right: 0 },
        borderSkipped: false,
        grouped: false,
        barPercentage: 0.92, categoryPercentage: 1,
      })),
    },
    options: {
      ...baseOptions(box, area, 0, 0),
      scales: {
        x: { display: false, afterFit: fixH(0) },
        y: { display: false, min: 0, max: 3, reverse: true, afterFit: fixW(0) },
      },
    },
    plugins: [
      {
        id: 'annG',
        afterDraw(chart: any) {
          const ctx = chart.ctx;
          const xs = chart.scales.x, ys = chart.scales.y;
          const X = (v: number) => v - box.x, Y = (v: number) => v - box.y;
          rows.forEach((vals, r) => {
            const meta = chart.getDatasetMeta(r);
            meta.data.forEach((el: any, i: number) => {
              drawText(ctx, `${vals[i].toFixed(2)}%`, el.x, (el.y + el.base) / 2 + 0.3, 6.8, { color: '#2a2a2a' });
            });
            drawText(ctx, G_ROWS[r], X(289.3), ys.getPixelForValue(r + 0.5) + 0.3, 8.3, { align: 'right' });
          });
          G_COLUMNS.forEach((c, i) => drawText(ctx, c, xs.getPixelForValue(i), Y(550.8), 8.3));
          drawText(ctx, 'sensitive', X(336.7), Y(538.5), 7.8);
          drawLine(ctx, X(291.7), Y(543.4), X(381.7), Y(543.4), '#333', 0.9);
          const g = ctx.createLinearGradient(X(299), 0, X(378.3), 0);
          g.addColorStop(0, heat(G_SCALE[0]));
          g.addColorStop(1, heat(G_SCALE[1]));
          ctx.save();
          ctx.fillStyle = g;
          ctx.fillRect(X(299), Y(601), 79.3, 7.3);
          ctx.restore();
          drawText(ctx, G_SCALE_LABELS[0], X(295), Y(597.3), 8);
          drawText(ctx, G_SCALE_LABELS[1], X(379), Y(597.3), 8);
          drawText(ctx, 'paracrine protection', X(340), Y(614.3), 9);
        },
      },
    ],
  };
}

/* ===================== COMPONENTS ===================== */
function ChartCanvas({ box, make }: { box: Box; make: (b: Box) => any }) {
  const ref = useRef<HTMLCanvasElement | null>(null);
  useEffect(() => {
    if (!ref.current) return;
    const chart = new Chart(ref.current, make(box));
    return () => chart.destroy();
  }, []);
  return (
    <canvas ref={ref} width={box.w} height={box.h}
      style={{ position: 'absolute', left: box.x, top: box.y, width: box.w, height: box.h, display: 'block' }} />
  );
}

const PANEL_LETTERS = [
  { t: 'A', x: 1.5, y: 3.3, s: 14 },
  { t: 'B', x: 240, y: 3.3, s: 14 },
  { t: 'C', x: 1.5, y: 173.3, s: 14 },
  { t: 'D', x: 240, y: 175, s: 14 },
  { t: 'E', x: 0, y: 337, s: 14 },
  { t: 'F', x: 65, y: 493.3, s: 12 },
  { t: 'G', x: 240, y: 526.7, s: 12 },
];

export default function App() {
  return (
    <div style={{ position: 'fixed', left: 0, top: 0, width: 480, height: 635, background: '#fff', overflow: 'hidden', fontFamily: FONT }}>
      {PANEL_LETTERS.map((p) => (
        <div key={p.t} style={{ position: 'absolute', left: p.x, top: p.y - 0.13 * p.s, fontSize: p.s, lineHeight: `${p.s}px`, fontWeight: 'bold', color: '#111' }}>{p.t}</div>
      ))}
      <ChartCanvas box={BOX_A} make={makeA} />
      <ChartCanvas box={BOX_B} make={makeBC('B')} />
      <ChartCanvas box={BOX_C} make={makeBC('C')} />
      <ChartCanvas box={BOX_D1} make={makeD(0)} />
      <ChartCanvas box={BOX_D2} make={makeD(1)} />
      {E_LAYOUT.map((L, i) => (
        <ChartCanvas key={i} box={L.box} make={makeE(i)} />
      ))}
      <ChartCanvas box={BOX_F} make={makeF} />
      <ChartCanvas box={BOX_G} make={makeG} />
    </div>
  );
}
